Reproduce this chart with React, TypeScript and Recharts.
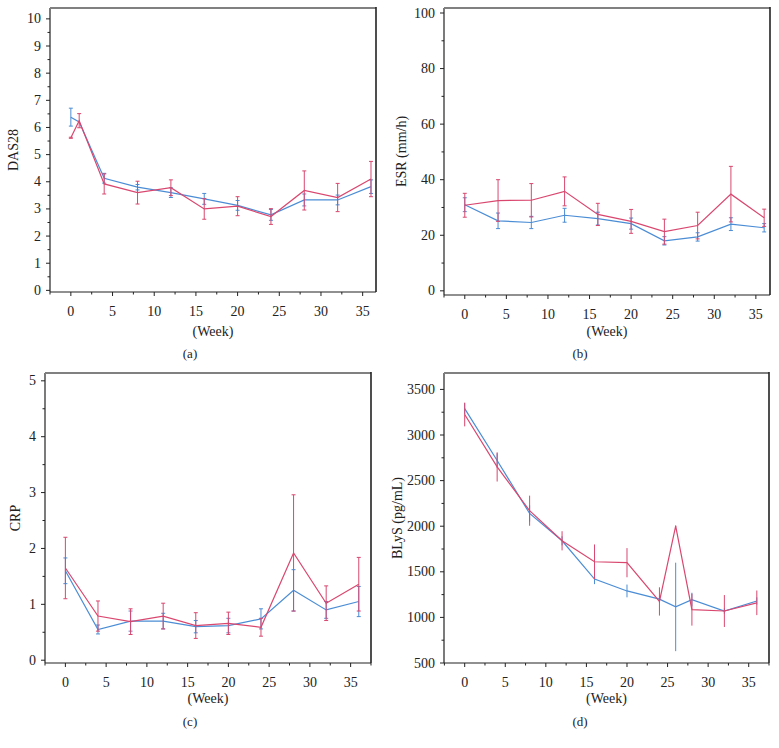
import React from 'react';
import { LineChart, Line, XAxis, YAxis, ErrorBar, Label } from 'recharts';

const BLUE = '#4b8dd5';
const RED = '#d9476f';
const FONT = '"Liberation Serif", "DejaVu Serif", serif';

// (a) DAS28
const weeksA = [0, 1, 4, 8, 12, 16, 20, 24, 28, 32, 36];
const dasBlue = [6.38, 6.2, 4.13, 3.8, 3.6, 3.37, 3.13, 2.78, 3.33, 3.33, 3.82];
const dasBlueErr = [0.33, 0, 0.18, 0.1, 0.18, 0.2, 0.18, 0.2, 0.22, 0.18, 0.25];
const dasRed = [5.62, 6.25, 3.92, 3.6, 3.78, 3.0, 3.1, 2.72, 3.68, 3.42, 4.1];
const dasRedErr = [0.02, 0.26, 0.37, 0.42, 0.29, 0.38, 0.35, 0.29, 0.72, 0.52, 0.65];

// (b) ESR and (c) CRP
const weeksB = [0, 4, 8, 12, 16, 20, 24, 28, 32, 36];
const esrBlue = [31, 25.2, 24.6, 27.2, 26, 24.2, 18, 19.4, 24, 22.7];
const esrBlueErr = [2.5, 2.8, 2.2, 2.5, 2.3, 2, 1.5, 1.5, 2.3, 1.5];
const esrRed = [30.8, 32.5, 32.6, 35.8, 27.5, 25, 21.3, 23.5, 34.8, 26.3];
const esrRedErr = [4.3, 7.5, 6, 5.2, 4, 4.3, 4.5, 4.8, 10, 3.1];

const crpBlue = [1.6, 0.55, 0.7, 0.7, 0.6, 0.62, 0.74, 1.25, 0.9, 1.05];
const crpBlueErr = [0.23, 0.08, 0.18, 0.14, 0.11, 0.13, 0.18, 0.37, 0.15, 0.27];
const crpRed = [1.65, 0.79, 0.69, 0.79, 0.62, 0.66, 0.59, 1.92, 1.02, 1.36];
const crpRedErr = [0.55, 0.27, 0.23, 0.23, 0.23, 0.2, 0.16, 1.04, 0.31, 0.48];

// (d) BLyS
const weeksD = [0, 4, 8, 12, 16, 20, 24, 26, 28, 32, 36];
const blysBlue = [3290, 2720, 2140, 1840, 1420, 1290, 1200, 1115, 1195, 1070, 1180];
const blysBlueErr = [60, 80, 90, 50, 55, 70, 40, 485, 75, 30, 40];
const blysRed = [3225, 2650, 2170, 1840, 1610, 1600, 1175, 2000, 1085, 1070, 1160];
const blysRedErr = [130, 160, 165, 105, 190, 160, 155, 10, 175, 175, 135];

const range = (a: number, b: number, s: number) => {
  const out: number[] = [];
  for (let v = a; v <= b + 1e-9; v += s) out.push(Math.round(v * 1000) / 1000);
  return out;
};

const isMajor = (v: number, step: number) => Math.abs(v / step - Math.round(v / step)) < 1e-6;

const toRows = (xs: number[], ys: number[], es: number[]) =>
  xs.map((x, i) => ({ x, y: ys[i], e: es[i] }));

function Panel(props: any) {
  const { left, top, plot, xDomain, yDomain, xTicks, yTicks, yStep, yLabel, yLabelX, caption, blue, red, caps, weekY, captionY } = props;
  const W = 390;
  const H = 345;
  const [pl, pr, pt, pb] = plot;
  const cx = (pl + pr) / 2;
  const cy = (pt + pb) / 2;

  const xTick = ({ x, y, payload }: any) => {
    const major = isMajor(payload.value, 5);
    return (
      <g>
        <line x1={x} x2={x} y1={y} y2={y + (major ? 4 : 2.5)} stroke="#222" strokeWidth={1} />
        {major && (
          <text x={x} y={y + 19} textAnchor="middle" dominantBaseline="central" fontSize={14} fill="#222" fontFamily={FONT}>
            {payload.value}
          </text>
        )}
      </g>
    );
  };

  const yTick = ({ x, y, payload }: any) => {
    const major = isMajor(payload.value, yStep);
    return (
      <g>
        <line x1={x} x2={x - (major ? 4 : 2.5)} y1={y} y2={y} stroke="#222" strokeWidth={1} />
        {major && (
          <text x={x - 9} y={y} textAnchor="end" dominantBaseline="central" fontSize={14} fill="#222" fontFamily={FONT}>
            {payload.value}
          </text>
        )}
      </g>
    );
  };

  return (
    <div style={{ position: 'absolute', left, top, width: W, height: H + 30 }}>
      <LineChart width={W} height={H} margin={{ top: pt, right: W - pr, left: 0, bottom: 0 }}>
        <XAxis
          type="number"
          dataKey="x"
          domain={xDomain}
          ticks={xTicks}
          interval={0}
          allowDataOverflow
          height={H - pb}
          tickSize={0}
          tickMargin={0}
          tickLine={false}
          tick={xTick}
          axisLine={{ stroke: '#222', strokeWidth: 1.2 }}
        >
          <Label
            content={() => (
              <text x={cx} y={weekY} textAnchor="middle" dominantBaseline="central" fontSize={14} fill="#222" fontFamily={FONT}>
                (Week)
              </text>
            )}
          />
        </XAxis>
        <YAxis
          type="number"
          domain={yDomain}
          ticks={yTicks}
          interval={0}
          allowDataOverflow
          width={pl}
          tickSize={0}
          tickMargin={0}
          tickLine={false}
          tick={yTick}
          axisLine={{ stroke: '#222', strokeWidth: 1.2 }}
        >
          <Label
            content={() => (
              <g>
                <text
                  x={yLabelX}
                  y={cy}
                  transform={`rotate(-90 ${yLabelX} ${cy})`}
                  textAnchor="middle"
                  dominantBaseline="central"
                  fontSize={14}
                  fill="#222"
                  fontFamily={FONT}
                >
                  {yLabel}
                </text>
                {/* plot frame: grey top edge, dark right edge */}
                <path d={`M${pl},${pt}H${pr}`} stroke="#808080" strokeWidth={2.2} fill="none" />
                <path d={`M${pr},${pt - 1}V${pb}`} stroke="#222" strokeWidth={1.6} fill="none" />
              </g>
            )}
          />
        </YAxis>
        <Line data={blue} dataKey="y" stroke={BLUE} strokeWidth={1.2} dot={false} isAnimationActive={false}>
          <ErrorBar dataKey="e" direction="y" width={caps ? 2 : 0} stroke={BLUE} strokeWidth={1} isAnimationActive={false} />
        </Line>
        <Line data={red} dataKey="y" stroke={RED} strokeWidth={1.2} dot={false} isAnimationActive={false}>
          <ErrorBar dataKey="e" direction="y" width={caps ? 2 : 0} stroke={RED} strokeWidth={1} isAnimationActive={false} />
        </Line>
      </LineChart>
      <div
        style={{
          position: 'absolute',
          left: 0,
          width: 380,
          top: captionY - 9,
          textAlign: 'center',
          fontFamily: FONT,
          fontSize: 13,
          color: '#222',
          lineHeight: '18px',
        }}
      >
        {caption}
      </div>
    </div>
  );
}

export default function App() {
  return (
    <div style={{ position: 'absolute', left: 0, top: 0, width: 779, height: 748, background: '#fff', overflow: 'hidden' }}>
      <Panel
        left={0}
        top={0}
        plot={[50, 376, 8, 292]}
        xDomain={[-2.5, 36.6]}
        yDomain={[-0.06, 10.4]}
        xTicks={range(-2.5, 35, 2.5)}
        yTicks={range(0, 10, 0.5)}
        yStep={1}
        yLabel="DAS28"
        yLabelX={13}
        weekY={331}
        caption="(a)"
        captionY={354}
        blue={toRows(weeksA, dasBlue, dasBlueErr)}
        red={toRows(weeksA, dasRed, dasRedErr)}
        caps
      />
      <Panel
        left={390}
        top={0}
        plot={[54, 380, 8, 295]}
        xDomain={[-2.5, 36.7]}
        yDomain={[-1.5, 101.8]}
        xTicks={range(-2.5, 35, 2.5)}
        yTicks={range(0, 100, 10)}
        yStep={20}
        yLabel="ESR (mm/h)"
        yLabelX={11}
        weekY={331}
        caption="(b)"
        captionY={354}
        blue={toRows(weeksB, esrBlue, esrBlueErr)}
        red={toRows(weeksB, esrRed, esrRedErr)}
        caps
      />
      <Panel
        left={0}
        top={370}
        plot={[45, 371, 3, 293]}
        xDomain={[-2.5, 37.5]}
        yDomain={[-0.05, 5.14]}
        xTicks={range(-2.5, 37.5, 2.5)}
        yTicks={range(0, 5, 0.5)}
        yStep={1}
        yLabel="CRP"
        yLabelX={15}
        weekY={328}
        caption="(c)"
        captionY={352}
        blue={toRows(weeksB, crpBlue, crpBlueErr)}
        red={toRows(weeksB, crpRed, crpRedErr)}
        caps
      />
      <Panel
        left={390}
        top={370}
        plot={[54, 379, 3, 293]}
        xDomain={[-2.55, 37.5]}
        yDomain={[500, 3680]}
        xTicks={range(-2.5, 37.5, 2.5)}
        yTicks={range(500, 3500, 250)}
        yStep={500}
        yLabel="BLyS (pg/mL)"
        yLabelX={7}
        weekY={328}
        caption="(d)"
        captionY={352}
        blue={toRows(weeksD, blysBlue, blysBlueErr)}
        red={toRows(weeksD, blysRed, blysRedErr)}
        caps={false}
      />
    </div>
  );
}
